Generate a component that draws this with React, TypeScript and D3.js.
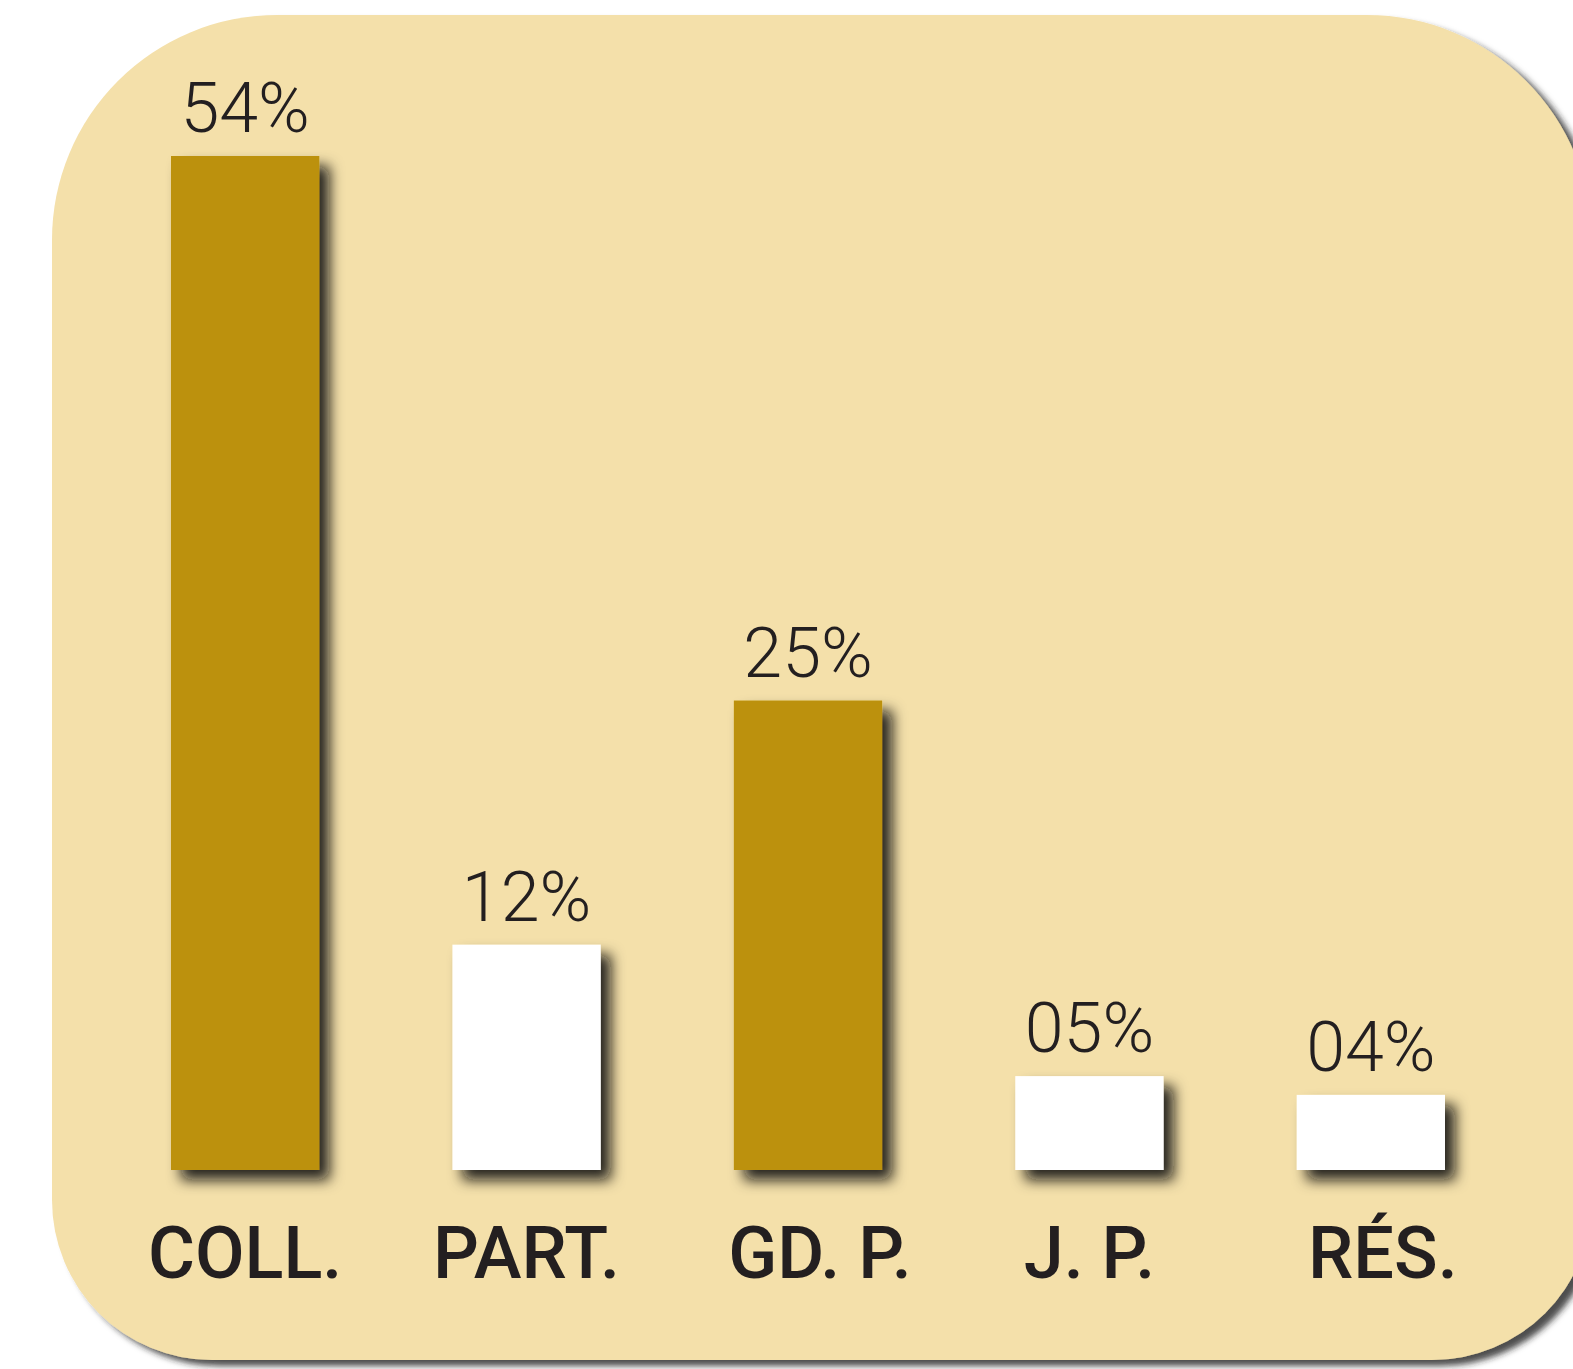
import { useEffect, useRef } from 'react';
import * as d3 from 'd3';

const categories = ['COLL.', 'PART.', 'GD. P.', 'J. P.', 'RÉS.'];
const values = [54, 12, 25, 5, 4];
const valueLabels = ['54%', '12%', '25%', '05%', '04%'];
const highlighted = [true, false, true, false, false];

const WIDTH = 1573;
const HEIGHT = 1369;

export default function App() {
  const svgRef = useRef<SVGSVGElement>(null);

  useEffect(() => {
    if (!svgRef.current) return;
    const svg = d3.select(svgRef.current);
    svg.selectAll('*').remove();

    const gold = '#bc9108';
    const panel = '#f4e0aa';
    const ink = '#231f20';

    const defs = svg.append('defs');
    const barShadow = defs.append('filter')
      .attr('id', 'bar-shadow')
      .attr('x', '-20%').attr('y', '-20%')
      .attr('width', '170%').attr('height', '170%');
    barShadow.append('feDropShadow')
      .attr('dx', 10).attr('dy', 10)
      .attr('stdDeviation', 7)
      .attr('flood-color', '#111')
      .attr('flood-opacity', 0.9);

    const panelShadow = defs.append('filter')
      .attr('id', 'panel-shadow')
      .attr('x', '-10%').attr('y', '-10%')
      .attr('width', '130%').attr('height', '130%');
    panelShadow.append('feDropShadow')
      .attr('dx', 8).attr('dy', 6)
      .attr('stdDeviation', 3)
      .attr('flood-color', '#222')
      .attr('flood-opacity', 0.8);

    // Panel: rounded box, larger radii on top than at the bottom
    const L = 52, T = 15, R = 1592, B = 1360;
    const rt = 225, rb = 160;
    const p = d3.path();
    p.moveTo(L + rt, T);
    p.lineTo(R - rt, T);
    p.arcTo(R, T, R, T + rt, rt);
    p.lineTo(R, B - rb);
    p.arcTo(R, B, R - rb, B, rb);
    p.lineTo(L + rb, B);
    p.arcTo(L, B, L, B - rb, rb);
    p.lineTo(L, T + rt);
    p.arcTo(L, T, L + rt, T, rt);
    p.closePath();

    svg.append('path')
      .attr('d', p.toString())
      .attr('fill', panel)
      .attr('filter', 'url(#panel-shadow)');

    const xScale = d3.scaleBand()
      .domain(categories)
      .range([171, 1445])
      .paddingInner(0.473)
      .paddingOuter(0);

    const yScale = d3.scaleLinear()
      .domain([0, 54])
      .range([1170, 156]);

    const data = categories.map((c, i) => ({
      cat: c,
      value: values[i],
      label: valueLabels[i],
      fill: highlighted[i] ? gold : '#ffffff',
    }));

    // Bars
    svg.selectAll('.bar')
      .data(data)
      .enter()
      .append('rect')
      .attr('class', 'bar')
      .attr('x', d => xScale(d.cat) || 0)
      .attr('y', d => yScale(d.value))
      .attr('width', xScale.bandwidth())
      .attr('height', d => yScale(0) - yScale(d.value))
      .attr('fill', d => d.fill)
      .attr('filter', 'url(#bar-shadow)');

    // Value labels
    svg.selectAll('.bar-label')
      .data(data)
      .enter()
      .append('text')
      .attr('class', 'bar-label')
      .attr('x', d => (xScale(d.cat) || 0) + xScale.bandwidth() / 2)
      .attr('y', d => yScale(d.value) - 24)
      .attr('text-anchor', 'middle')
      .attr('fill', ink)
      .attr('font-size', '70px')
      .attr('font-weight', '300')
      .style('font-family', 'Roboto, sans-serif')
      .text(d => d.label);

    // Category labels
    svg.selectAll('.cat-label')
      .data(data)
      .enter()
      .append('text')
      .attr('class', 'cat-label')
      .attr('x', d => (xScale(d.cat) || 0) + xScale.bandwidth() / 2 + (d.cat === 'GD. P.' || d.cat === 'RÉS.' ? 12 : 0))
      .attr('y', 1278)
      .attr('text-anchor', 'middle')
      .attr('fill', ink)
      .attr('font-size', '72px')
      .attr('font-weight', '500')
      .style('font-family', 'Roboto, sans-serif')
      .text(d => d.cat);
  }, []);

  return (
    <svg
      ref={svgRef}
      width={WIDTH}
      height={HEIGHT}
      style={{ position: 'absolute', left: 0, top: 0, background: '#ffffff' }}
    />
  );
}
